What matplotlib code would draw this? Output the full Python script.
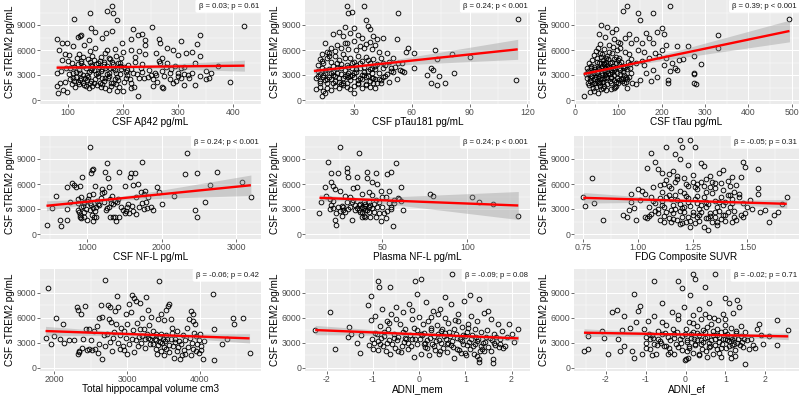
import numpy as np
import matplotlib
matplotlib.use("Agg")
import matplotlib.pyplot as plt

plt.rcParams['font.family'] = ['Liberation Sans', 'DejaVu Sans']
plt.rcParams['axes.unicode_minus'] = False

# ---------------- data ----------------
ab42_x = [180,172,183,140,189,111,253,420,143,180,
          150,170,218,235,228,340,305,122,125,118,
          80,90,98,138,162,198,215,240,240,265,
          268,335,110,130,150,172,185,215,230,260,
          280,290,325,340,85,95,102,120,145,160,
          175,200,222,240,270,300,315,330,100,90,
          108,125,140,155,165,180,195,210,235,265,
          268,280,295,310,350,372,360,355,350,393,
          320,305,330,310,273,270,255,227,220,215,
          200,190,175,160,145,140,130,120,98,92,
          83,80,86,95,105,115,125,135,150,165,
          178,190,205,215,230,245,255,260,275,285,
          290,300,80,88,97,110,120,128,138,145,
          152,160,168,175,185,195,205,215,225,235,
          248,258,270,285,300,310,112,118,127,133,
          137,142,148,155,158,163,167,172,177,182,
          188,192,197,202,207,212,218,222,232,238,
          118,123,128,133,138,143,148,153,158,163,
          168,173,178,183,188,193,110,102,108,113,
          250,262,278,288,296,305,318,326,340,140,
          105,115,125,135,145,155,165,175,185,195,
          112,122,132,142,152,162,172,182,192,202,
          117,127,137,147,157,167,177,187,197,207]
ab42_y = [11300,10700,10500,10500,9600,9700,8800,8900,8600,8300,
          8200,8100,8500,7900,7800,7800,7100,7700,7800,7600,
          7300,6900,6900,7200,7400,6800,7300,7200,6600,7300,
          6800,6700,6500,6600,6200,6000,6100,6000,5900,5700,
          6200,6000,5800,5300,6000,5500,5400,5500,5300,5200,
          5100,5800,5200,5500,5000,5400,5700,4500,4700,4800,
          4500,4700,4600,4400,4300,4600,4400,4200,4300,4700,
          4500,4400,4100,4000,3500,4100,3200,2700,2500,2200,
          2700,2600,1800,1800,1400,1600,1700,500,1600,1400,
          1100,1100,1200,1600,1700,2000,1800,1900,1000,1200,
          900,1700,2000,2200,2500,2800,2600,2400,2500,2300,
          2100,2800,2600,2000,2700,2800,2500,3000,2900,2500,
          2000,3300,3200,3500,3800,3300,3600,3000,3400,3800,
          3100,3500,3900,3300,3600,3100,3400,3700,3100,3400,
          3600,3200,3500,3300,2900,3100,4000,4300,4100,3800,
          4900,4200,3600,2900,4700,3700,2700,4100,3800,4300,
          3300,2400,3700,4000,3000,2500,3300,4600,3900,2600,
          2200,2400,2100,1700,1500,2300,2000,1800,2100,1900,
          1500,2600,1700,2000,1900,1600,2600,3100,1900,1600,
          3000,2200,4000,3700,2300,3800,3000,3300,2900,5900,
          3900,3400,4400,3000,4100,3300,4600,2900,2500,4100,
          2300,3200,2700,3600,4300,2600,3100,3800,4500,2200,
          5000,5200,2800,4800,4000,5600,4900,5300,5000,3600]

ptau_x = [26,35,27,29,53,36,115,30,25,37,
          38,52,45,58,72,61,81,90,73,61,
          68,70,71,74,82,70,73,77,114,55,
          50,53,55,57,19,22,24,28,32,40,
          42,34,38,30,26,21,15,18,13,16,
          20,23,27,31,35,39,43,47,41,36,
          12,14,16,18,20,22,24,26,28,30,
          32,34,36,38,40,42,44,46,48,50,
          11,13,15,17,19,21,23,25,27,29,
          31,33,35,37,39,41,43,45,47,49,
          10,12,14,16,18,20,22,24,26,28,
          30,32,34,36,38,40,42,44,46,48,
          10,12,14,16,18,20,22,24,26,28,
          30,32,34,36,38,41,13,15,30,44,
          12,17,21,25,29,33,37,41,45,52,
          54,51,56,49,19,23,27,31,35,39,
          11,13,15,17,19,21,23,25,27,29,
          31,33,35,37,39,41,43,45,14,18,
          22,26,30,34,38,12,16,20,24,28,
          32,36,40,17,25,33,11,15,19,23]
ptau_y = [11300,11300,10500,10600,10400,9600,9700,8700,8800,8900,
          8500,7300,7500,6200,6000,5600,5500,5200,4900,3800,
          3000,3800,3600,2900,3200,2000,1800,2100,2400,3500,
          3400,4400,4500,5800,7900,8200,7700,8100,7800,7700,
          7300,7400,7000,7100,6900,6600,6800,6200,5500,5800,
          5900,6300,6100,6000,6300,6100,5800,5700,6600,6700,
          4900,4400,5100,4600,5300,4800,5500,4200,5000,4600,
          5300,4700,5200,4400,4900,4300,5000,4200,4600,5000,
          3500,3900,3200,3700,3400,3900,3100,3600,3300,3800,
          3400,3900,3000,3500,3200,3700,3300,3800,3100,3500,
          2600,2300,2800,2100,2500,2900,2200,2600,2000,2400,
          2800,2100,2500,1900,2300,2700,2000,2400,2900,2200,
          1300,1600,1100,1500,1200,1700,1400,1800,1600,1300,
          1700,1900,1500,1800,1600,1500,500,900,900,2000,
          3100,2800,3300,2900,3000,2700,2900,2500,2800,2500,
          3600,4000,3400,3900,4100,4300,4000,4200,4000,3800,
          4200,4700,3600,5300,3000,4500,3800,5000,2800,4400,
          3700,4500,3400,4800,2600,4100,2500,4500,3000,3200,
          2700,3000,3300,3000,3700,2000,2500,2300,2100,2900,
          2400,2800,2100,5600,6800,6500,2900,2400,2000,1900]

ttau_x = [120,220,110,145,180,150,495,60,75,95,
          200,190,165,205,330,115,260,235,330,210,
          290,275,275,275,275,280,215,215,175,250,
          225,230,235,220,20,55,70,85,90,100,
          130,140,155,170,180,125,105,145,160,185,
          200,210,195,170,155,140,205,240,180,165,
          150,140,120,110,190,160,130,125,115,105,
          25,28,30,33,35,38,40,42,45,47,
          50,52,55,57,60,62,65,67,70,72,
          75,77,80,82,85,87,90,92,95,97,
          100,102,105,107,110,112,117,120,125,130,
          32,37,43,48,53,58,63,68,73,78,
          36,41,46,51,56,61,66,71,76,81,
          86,91,96,101,106,111,116,121,126,131,
          34,44,54,64,74,84,94,48,58,68,
          45,55,65,75,85,95,60,70,80,90,
          52,62,72,82,92,102,30,40,50,60,
          27,31,35,39,43,47,51,55,59,63,
          67,71,75,79,83,87,91,95,99,103,
          108,113,118,123,128,57,66,78,88,98,
          49,63,76,89,101,114,42,54,69,83]
ttau_y = [11300,11300,10700,10400,10500,9600,9700,9000,8800,8500,
          8700,8200,8100,7900,7800,7500,6500,6500,6200,6600,
          4300,3300,3100,5300,2000,1900,2100,2400,2300,4900,
          4400,3900,3600,3500,500,7900,7600,8200,7300,7000,
          6800,7300,6900,7500,6900,7900,6800,6000,5800,5600,
          6000,5000,5300,5100,4700,4500,4200,4800,3600,3300,
          2400,1900,1500,2700,2800,4200,4900,5500,5800,6300,
          3100,2600,3500,1800,2300,4100,2900,1400,3300,2100,
          4600,2700,3700,1700,5200,3000,2200,4300,3400,1200,
          2600,4900,3100,2000,5600,3800,2400,1600,4400,3200,
          2000,5000,3600,2500,4100,3000,2200,3700,2800,3300,
          4500,3800,5400,5900,6300,6700,5500,6100,5300,6600,
          2900,3500,2500,3200,2900,2500,3600,2800,3800,2300,
          3400,3000,2700,3800,4600,3400,4000,2500,4300,2100,
          1000,1100,900,1500,1900,1300,1700,1600,2200,1700,
          4000,4400,4800,4200,4600,5200,3800,3900,4400,4900,
          3500,4100,4600,3600,3900,4300,2000,1900,2300,1300,
          3900,3200,2700,4800,2000,3700,5000,2000,4500,3200,
          2600,5000,3500,4000,2800,4100,3600,2200,4800,3100,
          2300,3900,2800,4600,3800,5600,4400,5800,6400,6000,
          2800,2200,3200,1500,2400,2100,3300,3800,3000,2600]

nfl_x = [460,530,580,630,640,720,730,730,770,800,
         820,850,870,880,890,900,900,910,920,930,
         940,950,960,980,1000,1010,1020,1030,1040,1050,
         1060,1070,1080,1060,1070,1090,1100,1110,1120,1130,
         1150,1200,1220,1240,1260,1270,1280,1290,1300,1320,
         1330,1350,1370,1390,1400,1420,1430,1450,1500,1510,
         1530,1550,1570,1590,1610,1640,1650,1680,1700,1730,
         1740,1760,1780,1800,1820,1850,1880,1940,1960,2010,
         2160,2310,2340,2450,2470,2480,2580,2650,2750,3080,
         3200,870,920,960,990,1030,1050,1080,1100,1140,
         1180,1200,1230,1250,1290,1310,1340,1370,1410,1480,
         1520,1560,1600,1620,1660,1720,1760,1790,900,950]
nfl_y = [1100,3100,4600,1700,1000,1700,3000,5600,3800,6100,
         5900,5700,4200,3700,2600,5800,2300,1900,4500,6800,
         3400,2100,2700,3000,1700,4200,4700,3700,10500,7300,
         7700,7800,4800,2300,1600,2100,5800,3300,2000,4000,
         3500,5400,5100,7500,8500,3100,6700,5700,2000,3700,
         4600,2000,2100,1600,3900,2000,7500,3200,5800,2500,
         3300,3600,6900,7300,2800,7300,2400,6000,3200,8700,
         3700,3000,5200,3100,4500,3200,2900,5700,5000,3600,
         4600,7200,9700,2900,2100,7300,3800,5900,7400,6200,
         4400,2900,3300,3700,4000,2900,3500,3100,2800,3600,
         4300,4900,3800,2900,3300,4200,3600,4000,4200,2900,
         2800,2500,3400,5900,4400,5000,4800,3900,2000,3900]

pnfl_x = [13,14,16,17,18,19,20,20,20,21,
          21,22,23,23,24,25,25,26,27,28,
          28,29,29,30,30,31,32,33,34,35,
          35,36,36,37,38,38,39,40,40,41,
          41,42,42,43,44,44,45,46,46,47,
          47,48,49,49,50,51,52,53,54,54,
          55,55,55,56,57,58,59,60,61,61,
          62,78,80,103,107,115,130,19,21,22,
          24,25,26,27,29,31,32,33,34,35,
          36,37,38,38,39,39,40,40,41,42,
          42,43,44,45,46,48,50,52,53,57]
pnfl_y = [2500,3900,5700,4600,8700,4200,6200,7300,3500,5800,
          3100,1700,1100,2500,7300,5200,10500,2200,3300,2700,
          4600,7500,7900,3000,6800,4500,1700,5500,2900,6800,
          5700,9700,2900,3600,4800,2100,3100,2900,2000,7500,
          6700,5000,3900,2000,4700,6200,3600,7300,2000,6000,
          3300,2500,1600,5200,4400,2500,1900,7200,5200,3700,
          7400,3200,3000,1000,3700,8500,4300,4200,5700,4000,
          2900,4800,4600,4500,3800,3600,2200,3000,4000,5400,
          3200,2800,3400,2900,3800,3300,3800,4100,3500,3100,
          3500,2700,3300,2600,3900,2200,3400,3600,2900,3300,
          2600,3500,3100,2700,4100,3900,3200,4500,2800,4100]

fdg_x = [0.75,0.76,0.79,0.80,0.84,0.95,0.97,0.97,0.99,1.06,
         1.04,1.13,1.17,1.19,1.20,1.24,1.26,1.19,1.29,1.30,
         1.48,1.49,1.55,1.55,1.55,1.60,1.62,1.64,1.66,1.68,
         1.58,1.56,1.51,1.52,0.93,0.96,0.98,1.00,1.01,1.02,
         1.03,1.03,1.05,1.08,1.09,1.11,1.12,1.14,1.16,1.18,
         1.21,1.23,1.25,1.27,1.31,1.33,1.35,1.37,1.39,1.41,
         1.43,1.45,1.47,1.44,1.42,1.46,1.48,1.50,1.47,1.45,
         1.43,1.40,1.38,1.36,1.34,1.32,1.30,1.28,1.26,1.24,
         1.22,1.20,1.18,1.16,1.14,1.12,1.10,1.08,1.06,1.04,
         1.06,1.08,1.10,1.12,1.14,1.16,1.18,1.20,1.22,1.24,
         1.26,1.28,1.30,1.32,1.34,1.36,1.38,1.40,1.42,1.44,
         1.07,1.11,1.15,1.19,1.23,1.27,1.31,1.35,1.39,1.29,
         1.09,1.13,1.17,1.21,1.25,1.29,1.33,1.37,1.41,1.49,
         1.11,1.15,1.19,1.23,1.27,1.31,1.35,1.39,1.43,1.21,
         1.17,1.13,1.25,1.33,1.27,1.31,1.35,1.23,1.19,1.15,
         1.05,1.07,1.09,1.11,1.13,1.15,1.17,1.19,1.21,1.23,
         1.25,1.27,1.29,1.31,1.33,1.35,1.37,1.39,1.41,1.43,
         1.10,1.14,1.18,1.22,1.26,1.30,1.34,1.38,1.42,1.46,
         1.12,1.16,1.20,1.24,1.28,1.32,1.36,1.40,1.44,1.48]
fdg_y = [4500,3400,6700,3700,1700,2000,4800,3900,1700,9700,
         7900,10400,9600,11300,10500,11300,10500,9000,8500,8200,
         8700,8100,7800,5500,4800,1500,2300,2700,3600,4500,
         2900,2700,4100,3000,2300,2900,3100,5400,4100,5200,
         4800,2000,3300,8600,7800,7300,6000,7200,7600,7000,
         6700,8300,6300,6000,6600,5700,6100,7300,7700,6400,
         6900,5900,6800,5100,4700,4400,3700,3300,2300,1700,
         1500,2300,1800,1100,1400,500,900,1600,1300,900,
         1500,2000,1700,2500,1900,2200,1700,2800,2400,1900,
         4500,3700,4300,3200,4700,3500,4100,3100,4600,3400,
         4200,3000,4400,3600,4900,3200,4500,3800,3300,2800,
         5600,5100,5500,5200,5800,5400,5100,5500,5300,6300,
         3000,2700,3000,2600,2300,2700,2500,2800,2600,2500,
         4000,4200,3600,3900,3700,3200,4000,3500,4200,4900,
         6200,6500,7100,7000,2000,1900,2100,2100,1200,1400,
         2200,4000,2500,3500,4400,2900,4700,2800,3300,4300,
         2700,4600,3500,3900,2200,2600,3900,2300,4700,3700,
         5900,5800,6600,6000,5600,5800,6300,6100,5800,4800,
         1400,1800,1300,1600,2300,1900,1500,1600,2100,2000]

hip_x = [1920,1880,1950,2020,2000,2080,2120,2140,2200,2270,
         2310,2330,2360,2340,2330,2345,2400,2420,2430,2470,
         2480,2520,2560,2590,2600,2610,2640,2650,2660,2700,
         2720,2740,2770,2780,2800,2830,2850,2860,2870,2900,
         2920,2950,2980,3000,3020,3050,3070,3100,3120,3140,
         3160,3200,3230,3260,3280,3300,3350,3400,3420,3440,
         3450,3500,3540,3560,3580,3600,3620,3660,3700,3720,
         3750,3780,3820,3850,3880,3900,3910,3920,3930,3950,
         3980,4000,4010,4040,4180,4190,4190,4300,4370,4450,
         4460,4590,4680,2500,2550,2620,2680,2700,2760,2790,
         2820,2880,2900,2940,2960,3000,3030,3060,3080,3100,
         3120,3150,3170,3190,3210,3240,3250,3270,3290,3310,
         3320,3340,3360,3380,3390,3400,3410,3430,3450,3460,
         3470,3480,3490,3500,3510,3520,3530,3540,3550,3570,
         3580,3600,3610,3630,3640,3650,3680,3690,3710,3740,
         3760,3790,3800,3830,3860,3870,3890,3900,3940,3960,
         3990,4020,4050,2380,2450,2750,2990,3180,3330,3470]
hip_y = [9600,3600,2800,6000,3800,3400,5200,3000,3300,3300,
         7300,6900,6500,2000,1700,1900,3400,7400,4700,4600,
         2300,2100,2200,5000,1800,6000,7500,6100,1000,10500,
         4000,7500,7300,5500,3600,6800,5300,8600,7300,2200,
         4800,2100,3600,5200,7700,6700,8700,8400,8000,5400,
         3700,6000,4700,8500,6900,5100,4400,2300,5800,10400,
         3100,5700,6900,7400,7700,5800,4800,3500,2500,1100,
         1500,2100,4800,5900,6800,6500,5600,4200,5200,2000,
         3300,4000,2600,1100,8900,4700,900,2800,3400,6000,
         5300,6000,1800,3300,4400,2800,3900,2600,3100,2000,
         4300,3000,3900,2600,4400,1600,2900,3500,4500,1900,
         3300,2600,4600,3000,3800,3400,2400,4100,3600,2900,
         3400,3800,2800,3500,4000,3300,1600,2700,3700,2000,
         4100,3000,3500,2500,1500,3200,3900,2200,3500,2700,
         1900,3400,4200,2600,1200,3100,2000,4400,3200,2800,
         3900,3300,1700,2500,3600,1500,3000,2300,3800,2900,
         1800,2100,3200,2400,2100,5800,6400,7800,6100,6500]

mem_x = [-2.25,-1.92,-1.82,-1.52,-1.55,-1.35,-1.28,-1.10,-1.05,-0.88,
         -0.86,-0.62,-0.08,0.05,0.72,-0.05,0.55,1.10,1.30,1.50,
         1.95,2.00,2.05,2.15,1.30,1.30,1.60,1.60,-1.48,-1.25,
         -1.05,-1.02,-1.00,-0.95,-0.92,-0.90,-0.85,-0.82,-0.80,-0.75,
         -0.72,-0.70,-0.65,-0.62,-0.60,-0.55,-0.52,-0.50,-0.45,-0.42,
         -0.40,-0.35,-0.32,-0.30,-0.25,-0.22,-0.20,-0.15,-0.12,-0.10,
         -0.05,0.00,0.02,0.05,0.08,0.10,0.12,0.15,0.18,0.20,
         0.22,0.25,0.28,0.30,0.32,0.35,0.38,0.40,0.42,0.45,
         0.48,0.50,0.52,0.55,0.58,0.60,0.62,0.65,0.68,0.70,
         0.72,0.75,0.78,0.80,0.82,0.85,0.88,0.90,0.92,0.95,
         0.98,1.00,1.02,1.05,1.08,1.10,1.12,1.15,1.18,1.20,
         1.22,1.25,1.28,1.32,1.35,1.38,1.40,1.45,1.50,1.55,
         1.58,1.62,1.65,1.70,1.75,1.80,1.85,1.90,1.72,1.82,
         -1.08,-0.97,-0.88,-0.78,-0.68,-0.58,-0.48,-0.38,-0.28,-0.18,
         -0.08,0.03,0.13,0.23,0.33,0.43,0.53,0.63,0.73,0.83,
         0.93,1.03,1.13,1.23,1.33,1.43,1.53,1.63,1.03,0.47,
         -0.95,-0.85,-0.75,-0.65,-0.55,-0.45,-0.35,-0.25,-0.15,-0.05,
         0.06,0.16,0.26,0.36,0.46,0.56,0.66,0.76,0.86,0.96,
         1.06,1.16,1.26,1.36,1.46,1.56,1.66,1.76,-0.70,-0.30,
         0.10,0.60,1.00,1.40,-0.50,0.25,0.85,1.25,0.40,-0.15]
mem_y = [4500,6700,2300,4900,3700,3000,1800,7500,8600,10400,
         9700,9700,10400,10600,11300,8900,8500,8700,8300,6800,
         5300,4100,3100,4600,700,1000,1000,600,4100,3900,
         5700,3400,2300,6200,4000,2100,5000,3600,7000,4300,
         2000,5600,3300,1600,6400,4100,2400,7300,3700,5300,
         1900,6700,3100,4600,2200,7600,3900,5800,1300,4800,
         2800,6100,3500,1700,5300,4200,2500,7900,3300,5600,
         1500,4500,2900,6800,3800,2100,5100,4000,1600,7000,
         3000,4700,2400,6000,3500,1900,5400,4300,2700,7700,
         3200,1200,5700,4000,2200,6500,3400,1800,4900,2900,
         8000,3800,1500,5200,3100,2300,6200,3900,1700,4600,
         2800,5600,3500,2000,4300,3000,6600,3700,2500,5900,
         3300,4000,2700,5200,3400,4400,2600,3700,2500,2400,
         2700,3000,3200,2600,4700,2900,3300,2600,3500,2600,
         3400,4000,3000,3600,2600,3300,3800,3000,2500,3600,
         3200,2700,3400,3700,2600,3100,3600,3000,4300,4400,
         4200,2800,3800,5400,3600,2000,4300,3000,3500,4500,
         3900,2400,4800,3200,2000,4200,3800,4600,2100,3900,
         4800,2600,3200,2300,4500,2000,3700,2800,3000,3600,
         2900,2800,1800,2000,5800,6100,5600,1400,6500,6900]

ef_x = [-2.55,-2.45,-2.45,-2.10,-2.05,-1.95,-1.85,-1.72,-1.55,-1.30,
        -0.78,-0.20,-0.08,0.20,0.25,0.75,0.50,1.00,1.30,1.50,
        2.30,2.30,2.58,1.95,-1.70,-1.60,-1.65,-1.55,-1.40,-1.35,
        -1.25,-1.20,-1.15,-1.10,-1.30,1.80,1.85,1.90,1.75,2.10,
        -1.05,-1.00,-0.95,-0.90,-0.85,-0.80,-0.75,-0.70,-0.65,-0.60,
        -0.55,-0.50,-0.45,-0.40,-0.35,-0.30,-0.25,-0.20,-0.15,-0.10,
        -0.05,0.00,0.02,0.05,0.08,0.10,0.12,0.15,0.18,0.20,
        0.22,0.25,0.28,0.30,0.33,0.35,0.38,0.40,0.42,0.45,
        0.48,0.50,0.52,0.55,0.58,0.60,0.62,0.65,0.68,0.70,
        0.72,0.75,0.78,0.80,0.82,0.85,0.88,0.90,0.92,0.95,
        0.98,1.00,1.02,1.05,1.08,1.10,1.12,1.15,1.18,1.20,
        1.22,1.25,1.28,1.30,1.35,1.40,1.45,1.50,1.55,1.60,
        -0.98,-0.88,-0.78,-0.68,-0.58,-0.48,-0.38,-0.28,-0.18,-0.08,
        0.03,0.13,0.23,0.33,0.43,0.53,0.63,0.73,0.83,0.93,
        1.03,1.13,1.23,1.33,1.43,1.65,1.70,-0.02,0.07,-0.30,
        -1.00,-0.92,-0.82,-0.72,-0.62,-0.52,-0.42,-0.32,-0.22,-0.12,
        -0.02,0.08,0.18,0.28,0.38,0.48,0.58,0.68,0.78,0.88,
        0.98,1.08,1.18,1.28,1.38,1.48,-0.60,-0.20,0.20,0.60,
        1.00,1.40,-0.45,0.05,0.55,1.15,-0.85,0.35,0.85,1.25]
ef_y = [2000,2200,3800,4400,3600,1600,6700,6900,6200,8900,
        10400,10400,9600,11300,10700,11300,9700,8400,8100,500,
        5700,2700,4500,2900,3400,4500,2000,2600,4800,2000,
        5500,6800,7400,1700,1200,4600,5200,3900,2400,3800,
        4700,3000,5600,2300,3900,6200,1700,4400,3200,7800,
        2600,5100,3700,1900,6700,4100,2800,5800,3400,2100,
        7300,4600,1000,3100,5500,2400,8700,4000,1800,6300,
        3500,2700,5000,4200,1500,7000,3300,5900,2300,4500,
        3600,6500,2000,4900,3000,7800,2600,5300,3900,1600,
        6000,3400,4700,2200,5700,3700,1300,4300,2800,6400,
        3500,5100,2400,4000,7800,3200,1800,4800,2700,6600,
        3600,2100,4400,3000,7300,3800,2500,4300,3300,2200,
        3700,3400,2900,3500,4000,2600,3300,3600,2500,3800,
        3300,3600,2900,3900,3100,3700,3300,2700,3100,3500,
        3300,3700,2900,3500,3100,3500,2700,900,1200,1600,
        2400,4100,3600,2700,3000,4200,2400,4600,4300,3000,
        4100,2600,4300,3300,2800,4300,2500,4400,3900,2400,
        4400,2600,3500,4200,2700,3400,5500,6300,5400,6100,
        5900,5000,1600,2000,1300,1200,1500,1700,1800,1400]

# regression lines: x start, y start, x end, y end
fit_lines = [(80, 3880, 420, 4120), (9, 3480, 115, 6080), (20, 3120, 495, 8280),
             (450, 3385, 3200, 5850), (13, 4340, 130, 3420), (0.75, 4340, 1.68, 3620),
             (1880, 4400, 4680, 3520), (-2.25, 4520, 2.15, 3520), (-2.55, 4200, 2.58, 3760)]
# confidence band half widths: left end, narrowest, right end
band_widths = [(320, 160, 660), (320, 160, 1200), (320, 160, 1300),
               (600, 240, 1230), (400, 240, 1680), (640, 160, 520),
               (560, 200, 560), (560, 160, 360), (480, 160, 400)]

stat_labels = ["β = 0.03; p = 0.61", "β = 0.24; p < 0.001", "β = 0.39; p < 0.001",
               "β = 0.24; p < 0.001", "β = 0.24; p < 0.001", "β = -0.05; p = 0.31",
               "β = -0.06; p = 0.42", "β = -0.09; p = 0.08", "β = -0.02; p = 0.71"]
x_titles = ["CSF Aβ42 pg/mL", "CSF pTau181 pg/mL", "CSF tTau pg/mL",
            "CSF NF-L pg/mL", "Plasma NF-L pg/mL", "FDG Composite SUVR",
            "Total hippocampal volume cm3", "ADNI_mem", "ADNI_ef"]
y_title = "CSF sTREM2 pg/mL"

y_ticks = [0, 3000, 6000, 9000]
x_ticks = [[100, 200, 300, 400], [30, 60, 90, 120], [0, 100, 200, 300, 400, 500],
           [1000, 2000, 3000], [50, 100], [0.75, 1.00, 1.25, 1.50],
           [2000, 3000, 4000], [-2, -1, 0, 1, 2], [-2, -1, 0, 1, 2]]
x_tick_labels = [["100", "200", "300", "400"], ["30", "60", "90", "120"],
                 ["0", "100", "200", "300", "400", "500"], ["1000", "2000", "3000"],
                 ["50", "100"], ["0.75", "1.00", "1.25", "1.50"],
                 ["2000", "3000", "4000"], ["-2", "-1", "0", "1", "2"],
                 ["-2", "-1", "0", "1", "2"]]
x_minor = [[50, 150, 250, 350, 450], [15, 45, 75, 105], [50, 150, 250, 350, 450],
           [500, 1500, 2500], [25, 75, 125], [0.875, 1.125, 1.375, 1.625],
           [2500, 3500, 4500], [-1.5, -0.5, 0.5, 1.5], [-2.5, -1.5, -0.5, 0.5, 1.5, 2.5]]

xs_all = [ab42_x, ptau_x, ttau_x, nfl_x, pnfl_x, fdg_x, hip_x, mem_x, ef_x]
ys_all = [ab42_y, ptau_y, ttau_y, nfl_y, pnfl_y, fdg_y, hip_y, mem_y, ef_y]

# ---------------- layout ----------------
W, H = 800, 395
x_lims = [(67, 447), (4.4, 121.4), (-2.3, 517), (363, 3336), (4.5, 136.9),
          (0.7075, 1.736), (1804, 4837), (-2.47, 2.40), (-2.80, 2.85)]
row_px = [(0, 104), (136, 239), (269, 371)]
row_ylim = [(-480, 12000), (-600, 11760), (-396, 11844)]
col_px = [(40, 261), (305, 530), (574, 799)]

fig = plt.figure(figsize=(W / 100, H / 100), dpi=100)
fig.patch.set_facecolor('white')

for i in range(9):
    r, c = divmod(i, 3)
    l, rt = col_px[c]
    t, b = row_px[r]
    ax = fig.add_axes([l / W, 1 - b / H, (rt - l) / W, (b - t) / H])
    ax.set_facecolor('#EBEBEB')
    for s in ax.spines.values():
        s.set_visible(False)
    ax.set_xlim(*x_lims[i])
    ax.set_ylim(*row_ylim[r])
    ax.set_xticks(x_ticks[i])
    ax.set_xticklabels(x_tick_labels[i])
    ax.set_xticks(x_minor[i], minor=True)
    ax.set_yticks(y_ticks)
    ax.set_yticklabels([str(v) for v in y_ticks])
    ax.set_yticks([1500, 4500, 7500, 10500], minor=True)
    ax.grid(which='major', color='white', lw=0.75)
    ax.grid(which='minor', color='white', lw=0.35)
    ax.set_axisbelow(True)
    ax.tick_params(which='major', length=2, width=0.5, color='#333333',
                   labelsize=6.3, labelcolor='#4D4D4D', pad=0.6)
    ax.tick_params(which='minor', length=0)

    ax.plot(xs_all[i], ys_all[i], 'o', mfc='none', mec='black', ms=3.4, mew=0.65,
            zorder=2, clip_on=True)

    x0, y0, x1, y1 = fit_lines[i]
    hl, hm, hr = band_widths[i]
    a = np.sqrt(max(hl ** 2 - hm ** 2, 0.0))
    bb = np.sqrt(max(hr ** 2 - hm ** 2, 0.0))
    xc = (bb * x0 + a * x1) / (a + bb)
    sk = (a + bb) / (x1 - x0)
    xx = np.linspace(x0, x1, 120)
    yy = y0 + (y1 - y0) * (xx - x0) / (x1 - x0)
    hw = np.sqrt(hm ** 2 + (sk * (xx - xc)) ** 2)
    ax.fill_between(xx, yy - hw, yy + hw, color='#999999', alpha=0.4, lw=0, zorder=3)
    ax.plot([x0, x1], [y0, y1], color='#FF0000', lw=1.7, zorder=4, solid_capstyle='butt')

    ax.text(0.99, 0.975, stat_labels[i], transform=ax.transAxes, ha='right', va='top',
            fontsize=5.6, color='#1A1A1A', zorder=6,
            bbox=dict(boxstyle='round,pad=0.4,rounding_size=0.25', fc='white', ec='none'))

    ax.set_xlabel(x_titles[i], fontsize=7.2, color='black', labelpad=0.2)
    ax.set_ylabel(y_title, fontsize=7.2, color='black', labelpad=1.5)

fig.savefig('out.png', dpi=100, facecolor='white')
